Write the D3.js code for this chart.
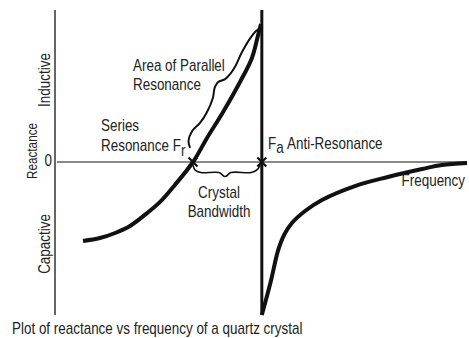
<!DOCTYPE html>
<html>
<head>
<meta charset="utf-8">
<script src="https://cdn.jsdelivr.net/npm/d3@7"></script>
<style>
  body { margin: 0; background: #fff; }
  text { font-family: "Liberation Sans", Arial, sans-serif; fill: #222; }
</style>
</head>
<body>
<div id="chart"></div>
<script>
// reactance curve below / above the anti-resonance point
var freqLow = [6.8, 10.9, 14.6, 18.2, 21.8, 25.5, 29.1, 33.5, 36.9, 40.8, 44.9, 47.8, 49.3, 50.0];
var reactLow = [-5.16, -4.97, -4.64, -4.18, -3.46, -2.61, -1.50, 0, 1.57, 3.27, 5.23, 6.80, 8.30, 9.02];
var freqHigh = [50.2, 52.4, 54.1, 55.6, 57.5, 60.7, 64.8, 72.8, 80.8, 89.1, 93.9, 100];
var reactHigh = [-10, -7.78, -5.82, -4.77, -3.99, -3.2, -2.48, -1.57, -0.98, -0.46, -0.2, -0.07];

// "area of parallel resonance" brace
var braceFreq = [32.8, 32.4, 33.3, 35.2, 36.9, 38.3, 38.8, 39.6, 41.3, 42.5, 43.8, 45.3, 47.4, 48.8, 50.0];
var braceReact = [0.92, 1.37, 2.03, 2.55, 3.27, 4.17, 4.9, 5.23, 5.42, 5.75, 6.28, 7.14, 8.1, 8.56, 8.77];

// "crystal bandwidth" brace
var bwFreq = [33.5, 34.0, 35.4, 39.8, 41.3, 42.7, 47.6, 49.0, 49.8];
var bwReact = [-0.2, -0.52, -0.69, -0.69, -0.95, -0.69, -0.69, -0.52, -0.2];

var fr = 33.5, fa = 50.2;
var yTop = 9.93, yBottom = -10;

var width = 469, height = 338;
var svg = d3.select("#chart").append("svg")
  .attr("width", width)
  .attr("height", height);

var x = d3.scaleLinear().domain([0, 100]).range([55, 467]);
var y = d3.scaleLinear().domain([-10, 10]).range([315, 9]);

var line = d3.line()
  .x(d => x(d[0]))
  .y(d => y(d[1]))
  .curve(d3.curveCatmullRom);

// axes
svg.append("line")
  .attr("x1", x(0)).attr("x2", x(0))
  .attr("y1", y(yTop)).attr("y2", y(yBottom))
  .attr("stroke", "#333").attr("stroke-width", 1.5);
svg.append("line")
  .attr("x1", x(0) + 2).attr("x2", x(100))
  .attr("y1", y(0)).attr("y2", y(0))
  .attr("stroke", "#888").attr("stroke-width", 2);

// anti-resonance vertical
svg.append("line")
  .attr("x1", x(fa)).attr("x2", x(fa))
  .attr("y1", y(yTop)).attr("y2", y(yBottom))
  .attr("stroke", "#111").attr("stroke-width", 3);

svg.append("path")
  .datum(d3.zip(freqLow, reactLow))
  .attr("d", line)
  .attr("fill", "none").attr("stroke", "#111").attr("stroke-width", 4);
svg.append("path")
  .datum(d3.zip(freqHigh, reactHigh))
  .attr("d", line)
  .attr("fill", "none").attr("stroke", "#111").attr("stroke-width", 4);

svg.append("path")
  .datum(d3.zip(braceFreq, braceReact))
  .attr("d", line)
  .attr("fill", "none").attr("stroke", "#111").attr("stroke-width", 2);
svg.append("path")
  .datum(d3.zip(bwFreq, bwReact))
  .attr("d", line)
  .attr("fill", "none").attr("stroke", "#111").attr("stroke-width", 1.6);

// crosses
[fr, fa].forEach(function(f) {
  var cx = x(f), cy = y(0), s = 4.5;
  svg.append("path")
    .attr("d", `M${cx - s},${cy - s}L${cx + s},${cy + s}M${cx - s},${cy + s}L${cx + s},${cy - s}`)
    .attr("stroke", "#111").attr("stroke-width", 2.2);
});

// labels: the source uses a condensed face, squeeze Liberation Sans horizontally
var squeeze = 0.84;
function label(txt, px, py, size, anchor, rot) {
  var g = svg.append("g")
    .attr("transform", "translate(" + px + "," + py + ")" + (rot ? " rotate(" + rot + ")" : "") + " scale(" + squeeze + ",1)");
  return g.append("text")
    .attr("font-size", size)
    .attr("text-anchor", anchor || "start")
    .text(txt);
}
label("Inductive", 50, 80, 16, "middle", -90);
label("Capactive", 50, 244, 16, "middle", -90);
label("Reactance", 37, 151, 14, "middle", -90);
label("0", 52, 166, 16, "end");

label("Area of Parallel", 133, 71, 16);
label("Resonance", 133, 90, 16);
label("Series", 101, 131, 16);
var t1 = label("Resonance F", 101, 151, 16);
t1.append("tspan").attr("dy", 5).text("r");
var t2 = label("F", 268, 149, 16);
t2.append("tspan").attr("dy", 4).text("a");
label("Anti-Resonance", 287, 149, 16);
label("Crystal", 219, 198, 16, "middle");
label("Bandwidth", 219, 217, 16, "middle");
label("Frequency", 465, 186, 16, "end");
label("Plot of reactance vs frequency of a quartz crystal", 12, 334, 16);
</script>
</body>
</html>
